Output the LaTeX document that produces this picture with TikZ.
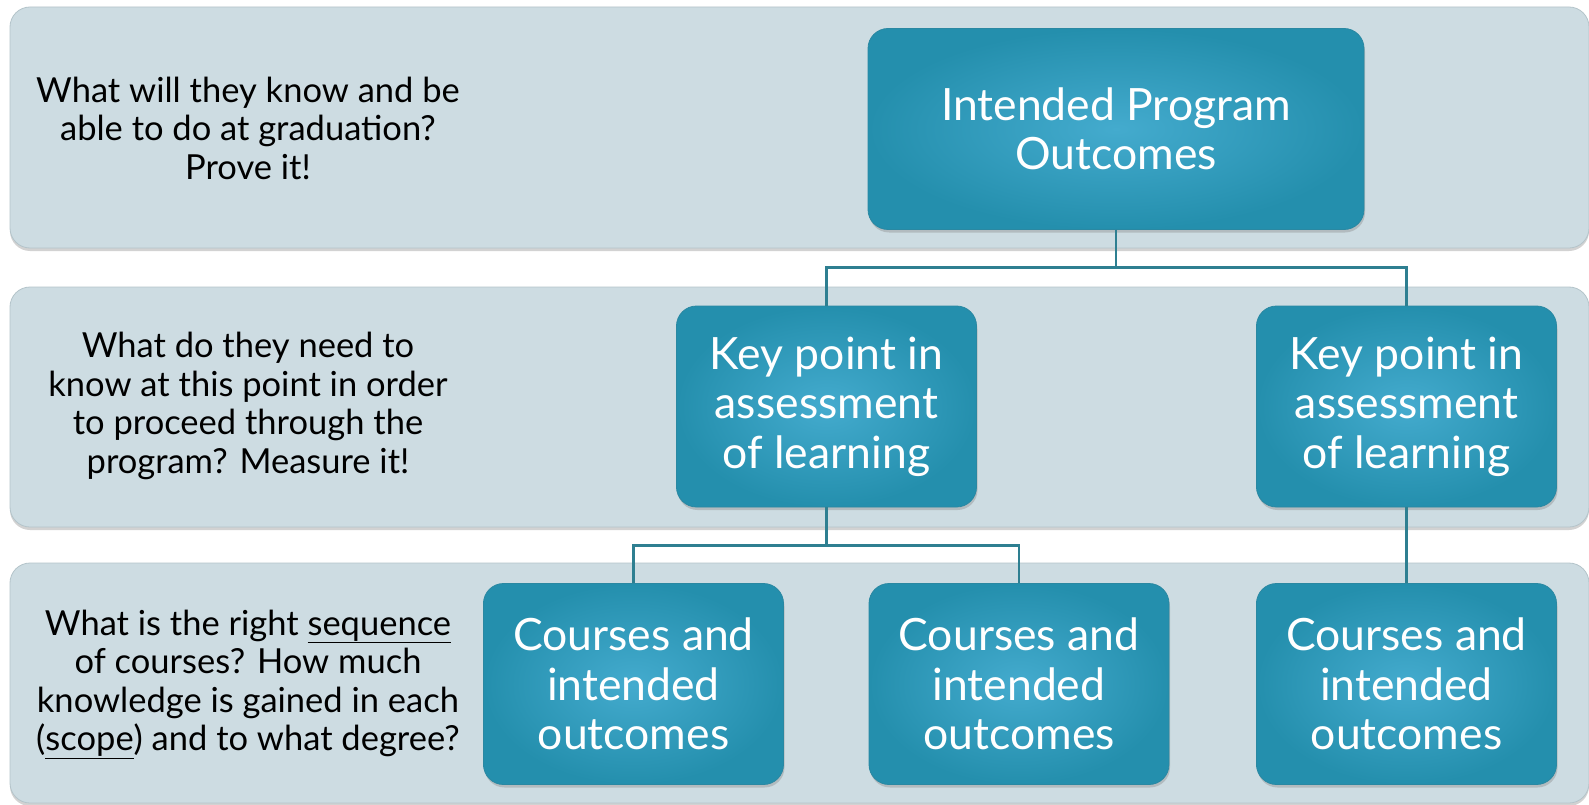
\documentclass[tikz,border=0pt]{standalone}
\usepackage{fontspec}
\setmainfont{Lato}
\usetikzlibrary{shadows}
\definecolor{bandfill}{HTML}{CDDCE2}
\definecolor{bandedge}{HTML}{B4C4CA}
\definecolor{boxin}{HTML}{44ABCE}
\definecolor{boxout}{HTML}{248FAD}
\definecolor{boxedge}{HTML}{2A88A2}
\definecolor{conncol}{HTML}{2E7F91}
\tikzset{
  band/.style={fill=bandfill, draw=bandedge, line width=0.8pt, rounded corners=20pt,
    drop shadow={opacity=0.35, shadow xshift=0pt, shadow yshift=-3pt}},
  box/.style={rectangle, rounded corners=20pt, draw=boxedge, line width=0.8pt,
    shading=radial, inner color=boxin, outer color=boxout,
    minimum width=300pt, minimum height=201pt, align=center, text=white,
    font=\fontsize{44.5}{49.5}\selectfont,
    drop shadow={opacity=0.35, shadow xshift=1pt, shadow yshift=-3pt}},
  question/.style={align=center, text=black, font=\fontsize{34.5}{38.5}\selectfont},
  conn/.style={draw=conncol, line width=2.4pt}
}
\begin{document}
\begin{tikzpicture}[x=1pt,y=-1pt]
\useasboundingbox (0,0) rectangle (1589,805);
\fill[white] (0,0) rectangle (1589,805);
% bands
\path[band] (10,7) rectangle (1589,248);
\path[band] (10,287) rectangle (1589,527);
\path[band] (10,563) rectangle (1589,803);
% questions
\node[question] (q1) at (248,128) {What will they know and be\\able to do at graduation?\\Prove it!};
\node[question] (q2) at (248,406) {What do they need to\\know at this point in order\\to proceed through the\\program? Measure it!};
\node[question] (q3) at (248,684) {What is the right \underline{sequence}\\of courses? How much\\knowledge is gained in each\\(\underline{scope}) and to what degree?};
% boxes
\node[box, minimum width=496pt] (top) at (1116,129) {Intended Program\\Outcomes};
\node[box] (m1) at (826.5,406.5) {Key point in\\assessment\\of learning};
\node[box] (m2) at (1406.5,406.5) {Key point in\\assessment\\of learning};
\node[box] (b1) at (633.5,684) {Courses and\\intended\\outcomes};
\node[box] (b2) at (1019,684) {Courses and\\intended\\outcomes};
\node[box] (b3) at (1406.5,684) {Courses and\\intended\\outcomes};
% connectors
\draw[conn] (top.south) -- ++(0,37.5) -| (m1.north);
\draw[conn] (top.south) -- ++(0,37.5) -| (m2.north);
\draw[conn] (m1.south) -- ++(0,38) -| (b1.north);
\draw[conn] (m1.south) -- ++(0,38) -| (b2.north);
\draw[conn] (m2.south) -- (b3.north);
\end{tikzpicture}
\end{document}
